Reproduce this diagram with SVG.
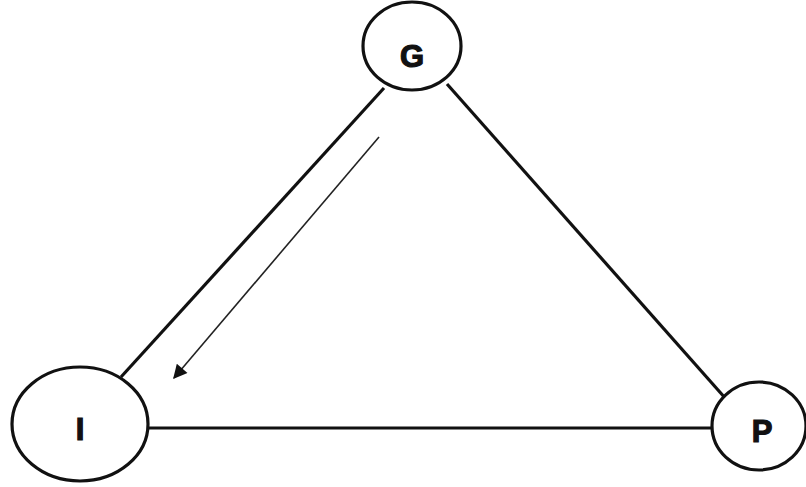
<svg xmlns="http://www.w3.org/2000/svg" width="806" height="487" viewBox="0 0 806 487">
<defs>
<style>
.node{fill:#fff;stroke:#111;stroke-width:3.2}
.lbl{font-family:"Liberation Sans",Arial,sans-serif;font-weight:bold;font-size:31px;fill:#111;stroke:#111;stroke-width:1.2;text-anchor:middle}
.edge{stroke:#111;stroke-width:3.2;fill:none}
.thin{stroke:#222;stroke-width:1.6;fill:none}
</style>
<marker id="ah2" viewBox="0 0 10 10" refX="9" refY="5" markerWidth="16" markerHeight="14" markerUnits="userSpaceOnUse" orient="auto">
<path d="M0,0 L10,5 L0,10 z" fill="#111"/>
</marker>
</defs>
<rect width="806" height="487" fill="#fff"/>
<g id="connectors">
<line class="edge" x1="384" y1="88" x2="121" y2="377"/>
<line class="edge" x1="447" y1="84" x2="726" y2="399"/>
<line class="edge" x1="148" y1="428" x2="712" y2="428"/>
<line class="thin" x1="379" y1="137" x2="174" y2="378" marker-end="url(#ah2)"/>
</g>
<g id="G">
<ellipse class="node" cx="412" cy="46" rx="49" ry="44"/>
<text class="lbl" x="412" y="67">G</text>
</g>
<g id="I">
<ellipse class="node" cx="80" cy="424" rx="68" ry="57"/>
<text class="lbl" x="80" y="440">I</text>
</g>
<g id="P">
<ellipse class="node" cx="759" cy="426" rx="47" ry="44"/>
<text class="lbl" x="762" y="442">P</text>
</g>
</svg>
